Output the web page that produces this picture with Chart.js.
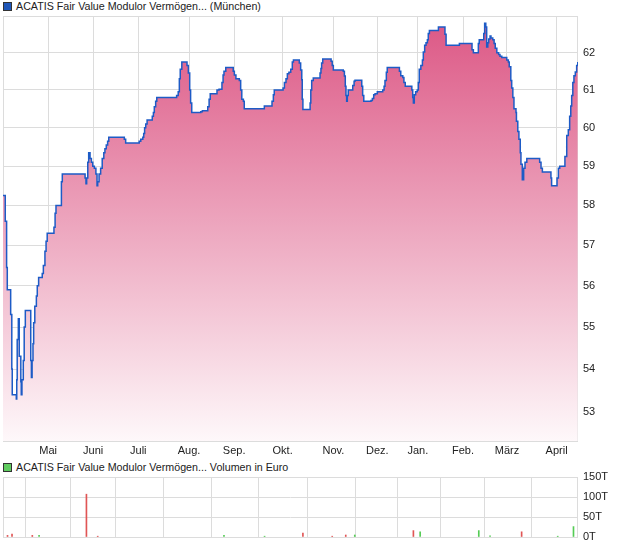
<!DOCTYPE html>
<html lang="de">
<head>
    <meta charset="UTF-8" />
    <title>ACATIS Fair Value Modulor Vermögen</title>
    <script src="https://cdn.jsdelivr.net/npm/chart.js"></script>
    <style>
        body { margin: 0; background: #fff; font-family: "Liberation Sans", Arial, sans-serif; color: #222; }
        .wrap { position: relative; width: 620px; height: 546px; overflow: hidden; }
        .head { position: absolute; left: 3px; font-size: 10.7px; line-height: 13px; white-space: nowrap; }
        .head .sq { display: inline-block; width: 7px; height: 7px; border: 1px solid #333; vertical-align: -1px; margin-right: 4px; }
        canvas { position: absolute; left: 0; }
    </style>
</head>
<body>
<div class="wrap">
    <div class="head" style="top:0px"><span class="sq" style="background:#1f56b8"></span>ACATIS Fair Value Modulor Vermögen... (München)</div>
    <canvas id="kurs" width="620" height="460" style="top:0"></canvas>
    <div class="head" style="top:461px"><span class="sq" style="background:#5fcc5f"></span>ACATIS Fair Value Modulor Vermögen... Volumen in Euro</div>
    <canvas id="volumen" width="620" height="100" style="top:460px"></canvas>
</div>

<script>
    // x axis = position in trading days (0 .. 255), month starts mark the grid
    const monthDays = [20, 40, 60, 82.5, 102.5, 124, 146.5, 166, 184, 204, 223.5, 245.5];
    const monthNames = ['Mai', 'Juni', 'Juli', 'Aug.', 'Sep.', 'Okt.', 'Nov.', 'Dez.', 'Jan.', 'Feb.', 'März', 'April'];
    const priceTicks = [53, 54, 55, 56, 57, 58, 59, 60, 61, 62];
    const volTicks = [0, 50000, 100000, 150000];

    // price (EUR); holds are implied by the stepped line
    const priceX = [0, 1.0, 1.6, 1.9, 3.4, 3.9, 4.1, 5.9, 6.1, 6.3, 6.8, 7.2, 7.9, 8.1, 8.4, 9.0, 9.4, 9.9,
        12.3, 12.6, 12.9, 13.3, 13.6, 14.1, 14.8, 15.2, 15.8, 17.4, 17.9, 18.6, 19.1, 19.6, 22.6, 23.1, 23.5,
        25.9, 26.3, 36.4, 36.8, 37.1, 37.6, 38.0, 38.6, 39.2, 39.8, 40.5, 41.2, 41.7, 42.0, 42.6, 43.3, 44.0,
        44.7, 45.2, 45.8, 46.4, 46.9, 53.8, 54.4, 60.4, 61.1, 62.0, 62.4, 62.8, 63.3, 63.9,
        66.2, 66.7, 67.1, 67.7, 68.2, 77.0, 77.7, 78.2, 78.6, 79.3, 81.6, 82.2, 82.8, 83.2, 83.7, 87.7, 88.4,
        90.8, 91.4, 91.9, 94.9, 95.8, 97.1, 97.6, 98.0, 98.8, 102.1, 102.6, 103.3, 104.8, 105.4, 105.9, 106.6,
        107.0, 115.9, 119.3, 119.9, 120.3, 124.2, 124.8, 125.5, 126.1, 126.8, 127.6, 128.3, 128.8,
        131.4, 132.0, 132.5, 132.7, 133.0, 136.2, 136.5, 136.9, 137.6, 140.6, 141.0, 141.3, 141.8, 145.5, 146.0,
        146.5, 150.9, 151.4, 151.8, 152.1, 152.4, 152.7, 153.1, 155.1, 155.7, 156.1, 159.1, 159.5, 160.0, 163.2,
        163.8, 164.4, 165.0, 166.0, 168.4, 169.0, 169.4, 170.0, 170.4, 175.8, 176.4, 177.3, 177.8, 178.4, 181.3,
        181.7, 182.0, 182.4, 183.0, 183.7, 184.2, 184.6, 185.3, 186.0, 186.4, 187.0, 187.6, 188.2, 188.6, 189.1,
        193.1, 196.0, 196.5, 202.4, 208.0, 208.6, 210.8, 211.2, 213.2, 213.6, 214.1, 214.5, 215.0, 215.4, 216.0,
        216.4, 217.2, 217.8, 218.3, 219.0, 219.8, 220.4, 221.2, 223.4, 224.1, 224.5, 225.2, 225.6, 226.1, 226.6,
        227.5, 227.7, 228.3, 228.8, 229.4, 229.7, 230.3, 230.9, 231.5, 232.3, 238.0, 238.6, 239.2, 243.0, 243.3,
        245.7, 246.3, 246.9, 249.2, 250.0, 250.7, 251.3, 251.8, 252.2, 252.7, 253.2, 253.8, 254.4, 254.9];
    const priceY = [58.25, 57.6, 56.45, 55.9, 55.3, 54.0, 53.4, 53.3, 53.75, 54.7, 55.2, 54.3, 53.7, 53.4, 53.75, 54.2, 55.0, 55.4,
        54.2, 53.8, 54.2, 54.6, 55.1, 55.5, 55.75, 56.0, 56.2, 56.3, 56.5, 56.85, 57.1, 57.3, 57.45, 57.8, 58.0,
        58.6, 58.8, 58.7, 58.55, 58.7, 59.1, 59.35, 59.2, 59.1, 59.0, 58.95, 58.8, 58.5, 58.6, 58.8, 58.95, 59.2,
        59.35, 59.45, 59.55, 59.65, 59.75, 59.7, 59.6, 59.65, 59.7, 59.75, 59.85, 60.0, 60.1, 60.2,
        60.3, 60.4, 60.55, 60.7, 60.8, 60.85, 60.95, 61.3, 61.55, 61.75, 61.65, 61.45, 61.0, 60.65, 60.4, 60.42, 60.45,
        60.55, 60.75, 60.9, 61.0, 61.02, 61.2, 61.4, 61.5, 61.6, 61.5, 61.4, 61.3, 61.25, 61.0, 60.75, 60.7,
        60.5, 60.57, 60.7, 60.87, 61.0, 61.05, 61.2, 61.3, 61.43, 61.47, 61.55, 61.75, 61.8,
        61.72, 61.53, 61.27, 60.75, 60.48, 60.65, 61.0, 61.25, 61.32, 61.45, 61.57, 61.72, 61.83, 61.77, 61.65,
        61.53, 61.5, 61.37, 61.1, 60.85, 60.7, 60.85, 61.0, 61.12, 61.23, 61.26, 61.1, 60.85, 60.7, 60.72,
        60.77, 60.87, 60.9, 60.95, 61.0, 61.1, 61.25, 61.47, 61.6, 61.5, 61.38, 61.33, 61.2, 61.1, 61.0,
        60.8, 60.65, 60.87, 60.95, 61.0, 61.2, 61.55, 61.65, 61.8, 62.02, 62.2, 62.27, 62.35, 62.52, 62.6,
        62.7, 62.5, 62.2, 62.25, 62.08, 62.0, 62.25, 62.35, 62.52, 62.8, 62.7, 62.15, 62.27, 62.37, 62.45,
        62.4, 62.35, 62.25, 62.12, 62.0, 61.95, 61.9, 61.87, 61.8, 61.75, 61.62, 61.25, 61.05, 60.8, 60.5,
        60.4, 60.17, 59.9, 59.7, 59.35, 59.05, 58.65, 58.95, 59.1, 59.2, 59.1, 58.95, 58.85, 58.7, 58.5,
        58.7, 58.95, 59.0, 59.25, 59.8, 59.95, 60.3, 60.57, 60.85, 61.2, 61.38, 61.48, 61.65, 61.75];

    // Volumen in Euro, red = down day, green = up day
    const volX = [2, 4, 13, 16, 37, 42, 98, 116, 133, 146, 152, 156, 182, 185, 211, 216, 230, 246, 253];
    const volY = [4000, 7000, 4000, 4000, 107000, 2000, 4000, 2000, 10000, 2000, 5000, 5000, 16000, 13000, 16000, 3000, 13000, 2000, 26000];
    const volUp = [0, 0, 0, 1, 0, 0, 1, 1, 0, 0, 0, 1, 0, 1, 1, 1, 0, 1, 1];

    const gridColor = '#dcdcdc';
    const tickFont = { family: '"Liberation Sans", Arial, sans-serif', size: 11 };

    // frame round the plot area
    const frame = {
        id: 'frame',
        beforeDatasetsDraw(chart) {
            const a = chart.chartArea;
            const c = chart.ctx;
            c.save();
            c.strokeStyle = gridColor;
            c.lineWidth = 1;
            c.strokeRect(Math.round(a.left) + 0.5, Math.round(a.top) + 0.5, Math.round(a.right - a.left) - 1, Math.round(a.bottom - a.top));
            c.restore();
        }
    };

    function monthAxis(showLabels, height) {
        return {
            type: 'linear',
            min: 0,
            max: 255,
            offset: false,
            afterBuildTicks: s => { s.ticks = monthDays.map(v => ({ value: v })); },
            afterFit: s => { s.height = height; },
            grid: { color: gridColor, drawTicks: false },
            border: { display: false },
            ticks: {
                display: showLabels,
                autoSkip: false,
                maxRotation: 0,
                padding: 3,
                color: '#222',
                font: tickFont,
                callback: (v, i) => monthNames[i]
            }
        };
    }

    const pricePoints = priceX.map((x, i) => ({ x: x, y: priceY[i] }));

    new Chart(document.getElementById('kurs'), {
        type: 'line',
        data: {
            datasets: [{
                data: pricePoints,
                stepped: true,
                borderColor: '#1d5bc6',
                borderWidth: 1.5,
                pointRadius: 0,
                fill: 'start',
                backgroundColor: ctx => {
                    const a = ctx.chart.chartArea;
                    if (!a) return 'rgba(220,87,131,0.6)';
                    const g = ctx.chart.ctx.createLinearGradient(0, a.top, 0, a.bottom);
                    g.addColorStop(0, 'rgb(220,86,132)');
                    g.addColorStop(1, 'rgb(254,248,250)');
                    return g;
                }
            }]
        },
        options: {
            responsive: false,
            animation: false,
            layout: { padding: { left: 3, top: 16, right: 0, bottom: 0 } },
            plugins: { legend: { display: false }, tooltip: { enabled: false } },
            scales: {
                x: monthAxis(true, 19),
                y: {
                    type: 'logarithmic',
                    position: 'right',
                    min: 52.33,
                    max: 63.0,
                    afterBuildTicks: s => { s.ticks = priceTicks.map(v => ({ value: v })); },
                    afterFit: s => { s.width = 42; },
                    grid: { color: gridColor, drawTicks: false },
                    border: { display: false },
                    ticks: { padding: 5, color: '#222', font: tickFont, callback: v => String(v) }
                }
            }
        },
        plugins: [frame]
    });

    new Chart(document.getElementById('volumen'), {
        type: 'bar',
        data: {
            datasets: [{
                data: volX.map((x, i) => ({ x: x, y: volY[i] })),
                backgroundColor: volUp.map(u => u ? '#55cc55' : '#e05555'),
                barThickness: 1,
                grouped: false
            }]
        },
        options: {
            responsive: false,
            animation: false,
            layout: { padding: { left: 3, top: 17, right: 0, bottom: 0 } },
            plugins: { legend: { display: false }, tooltip: { enabled: false } },
            scales: {
                x: monthAxis(false, 23),
                y: {
                    position: 'right',
                    min: 0,
                    max: 150000,
                    afterBuildTicks: s => { s.ticks = volTicks.map(v => ({ value: v })); },
                    afterFit: s => { s.width = 42; },
                    grid: { color: gridColor, drawTicks: false },
                    border: { display: false },
                    ticks: { padding: 5, color: '#222', font: tickFont, callback: v => (v / 1000) + 'T' }
                }
            }
        },
        plugins: [frame]
    });
</script>
</body>
</html>
